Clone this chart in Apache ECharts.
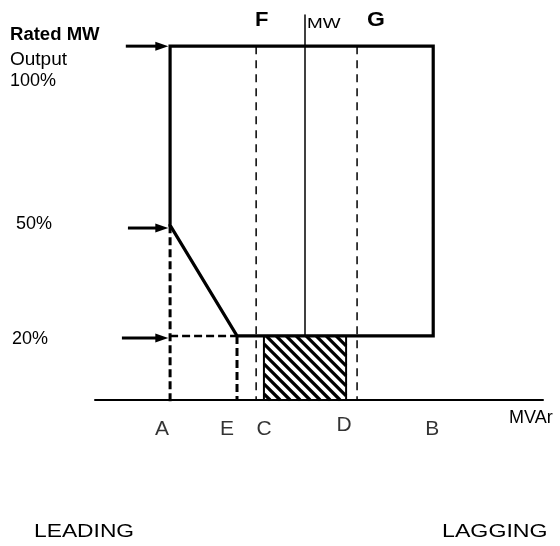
<!DOCTYPE html>
<html>
<head>
<meta charset="utf-8">
<script src="https://cdn.jsdelivr.net/npm/echarts@6/dist/echarts.min.js"></script>
<style>html,body{margin:0;padding:0;background:#fff}#main{width:560px;height:546px}</style>
</head>
<body>
<div id="main"></div>
<script>
// ---- data (schematic units: MVAr horizontal, MW % vertical) ----
const axisRangeMvar = [-59.3, 67.2];
const axisRangeMw = [0, 108.8];
const letters = ['A', 'E', 'C', 'D', 'B'];
const letterMvar = [-38.1, -19.2, -13.8, 14.7, 36.2];
const levelNames = ['100%', '50%', '20%'];
const levelMw = [100, 49.4, 18.1];
const boundaryMvar = [-38.1, -38.1, 36.2, 36.2, -19.2, -38.1];
const boundaryMw = [49.4, 100, 100, 18.1, 18.1, 49.4];
const hatchMvar = [-11.6, 11.6];
const hatchMw = [0, 18.1];
const arrowFromMvar = [-50.6, -50.0, -51.7];
const arrowToMvar = [-38.6, -38.6, -38.6];
const arrowMw = [100, 48.6, 17.5];

const FONT = '"Liberation Sans", Arial, sans-serif';

const xA = letterMvar[0], xE = letterMvar[1], xC = letterMvar[2], xD = letterMvar[3];
const guidesHeavy = [
  [[xA, levelMw[1]], [xA, -0.6]],
  [[xE, levelMw[2]], [xE, 0]]
];
const guideHoriz = [[xA, levelMw[2]], [xE, levelMw[2]]];
const guidesLight = [
  [[xC, levelMw[0]], [xC, 0]],
  [[xD, levelMw[0]], [xD, 0]]
];

const chart = echarts.init(document.getElementById('main'), null, {renderer: 'canvas'});

function dashedLine(data, width, dash) {
  return {
    type: 'line', data: data, symbol: 'none', showSymbol: false, clip: false, silent: true,
    lineStyle: {color: '#000', width: width, type: dash}, z: 2
  };
}

const series = [];
guidesHeavy.forEach(g => series.push(dashedLine(g, 3, [8, 4])));
series.push(dashedLine(guideHoriz, 2.5, [8, 4]));
guidesLight.forEach(g => series.push(dashedLine(g, 1.5, [8, 6])));

// hatched region (opaque, hides the MW axis below the 20% line)
series.push({
  type: 'custom', silent: true, z: 3,
  data: [[hatchMvar[0], hatchMw[0], hatchMvar[1], hatchMw[1]]],
  renderItem: function (params, api) {
    const tl = api.coord([api.value(0), api.value(3)]);
    const br = api.coord([api.value(2), api.value(1)]);
    const L = tl[0], T = tl[1], R = br[0], B = br[1];
    const children = [{type: 'rect', shape: {x: L, y: T, width: R - L, height: B - T - 1}, style: {fill: '#fff'}}];
    const step = 10;
    for (let k = T - R - step * 2; k <= B - L + step; k += step) {
      const xs = Math.max(L, T - k), xe = Math.min(R, B - k);
      if (xs < xe) {
        children.push({type: 'line', shape: {x1: xs, y1: xs + k, x2: xe, y2: xe + k},
          style: {stroke: '#000', lineWidth: 3.2}});
      }
    }
    children.push({type: 'line', shape: {x1: L, y1: T, x2: L, y2: B}, style: {stroke: '#000', lineWidth: 2}});
    children.push({type: 'line', shape: {x1: R, y1: T, x2: R, y2: B}, style: {stroke: '#000', lineWidth: 2}});
    return {type: 'group', children: children};
  }
});

// capability boundary
series.push({
  type: 'line', symbol: 'none', showSymbol: false, silent: true, clip: false, z: 4,
  data: boundaryMvar.map((x, i) => [x, boundaryMw[i]]),
  lineStyle: {color: '#000', width: 3.2, join: 'miter', cap: 'square'}
});

// arrows
series.push({
  type: 'custom', silent: true, z: 5,
  data: arrowMw.map((y, i) => [arrowFromMvar[i], y, arrowToMvar[i]]),
  renderItem: function (params, api) {
    const p0 = api.coord([api.value(0), api.value(1)]);
    const p1 = api.coord([api.value(2), api.value(1)]);
    const head = 13, hw = 4.5;
    return {type: 'group', children: [
      {type: 'line', shape: {x1: p0[0], y1: p0[1], x2: p1[0] - head + 1, y2: p1[1]},
        style: {stroke: '#000', lineWidth: 3}},
      {type: 'polygon', shape: {points: [[p1[0], p1[1]], [p1[0] - head, p1[1] - hw], [p1[0] - head, p1[1] + hw]]},
        style: {fill: '#000'}}
    ]};
  }
});

// axis letters
const letterOffsets = [[-8, 29], [-10, 29], [8, 29], [-13, 25], [-1, 29]];
series.push({
  type: 'scatter', silent: true, symbolSize: 0.1, itemStyle: {color: 'rgba(0,0,0,0)'}, z: 6,
  data: letters.map((n, i) => ({name: n, value: [letterMvar[i], 0], label: {offset: letterOffsets[i]}})),
  label: {show: true, position: 'inside', formatter: '{b}', color: '#000', fontSize: 21, fontFamily: FONT}
});

function txt(text, x, y, font, sx) {
  return {type: 'text', x: x, y: y, scaleX: sx || 1, silent: true, z: 10,
    style: {text: text, x: 0, y: 0, font: font, fill: '#000', align: 'left', verticalAlign: 'middle',
      textAlign: 'left', textVerticalAlign: 'middle'}};
}

const graphic = [
  txt('Rated MW', 10, 35.5, 'bold 18px ' + FONT, 1.03),
  txt('Output', 10, 60, '19px ' + FONT),
  txt(levelNames[0], 10, 81, '18px ' + FONT),
  txt(levelNames[1], 16, 224.5, '18px ' + FONT),
  txt(levelNames[2], 12, 339.5, '18px ' + FONT),
  txt('F', 255, 20, 'bold 20px ' + FONT, 1.1),
  txt('MW', 307, 24, '14px ' + FONT, 1.35),
  txt('G', 367, 20, 'bold 20px ' + FONT, 1.15),
  txt('MVAr', 509, 418.5, '18px ' + FONT),
  txt('LEADING', 34, 532, '19px ' + FONT, 1.2),
  txt('LAGGING', 442, 532, '19px ' + FONT, 1.22)
];

chart.setOption({
  animation: false,
  backgroundColor: '#fff',
  grid: {left: 95, right: 17, top: 15, bottom: 146},
  xAxis: {type: 'value', min: axisRangeMvar[0], max: axisRangeMvar[1],
    axisLine: {show: true, onZero: true, lineStyle: {color: '#000', width: 2}},
    axisTick: {show: false}, axisLabel: {show: false}, splitLine: {show: false}},
  yAxis: {type: 'value', min: axisRangeMw[0], max: axisRangeMw[1],
    axisLine: {show: true, onZero: true, lineStyle: {color: '#000', width: 1.5}},
    axisTick: {show: false}, axisLabel: {show: false}, splitLine: {show: false}},
  series: series,
  graphic: graphic
});
</script>
</body>
</html>
